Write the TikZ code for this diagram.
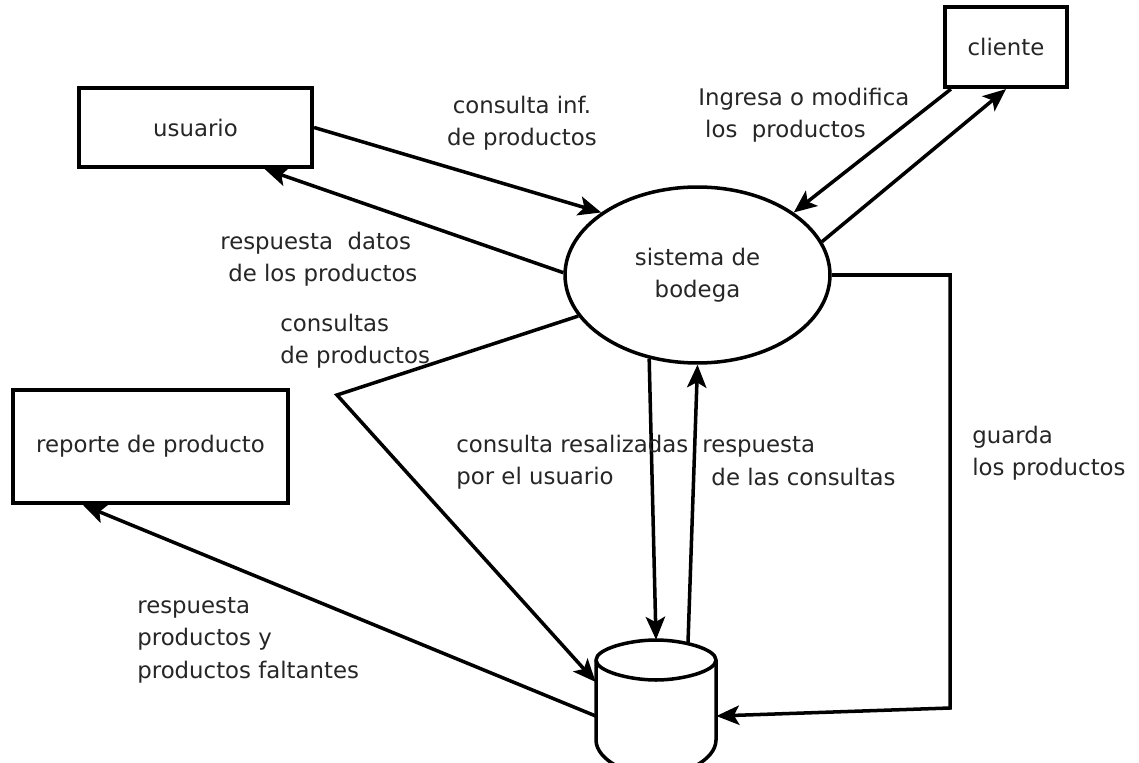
\documentclass[tikz,border=0pt]{standalone}
\usepackage{fontspec}
\setmainfont{DejaVu Sans}
\usetikzlibrary{arrows.meta,calc,shapes.geometric}

\tikzset{
  every node/.style={font=\fontsize{13}{18.5}\selectfont, text=black!85},
  entidad/.style={draw, line width=2.4pt, inner sep=0pt},
  proceso/.style={ellipse, draw, line width=2pt, inner sep=0pt,
    minimum width=5.3cm, minimum height=3.52cm, align=center},
  flujo/.style={line width=2pt, -{Stealth[length=13pt,width=11pt,inset=3pt]}},
  linea/.style={line width=2pt, line join=round},
  etiq/.style={inner sep=0pt, align=left, anchor=west},
}

\begin{document}
\begin{tikzpicture}[x=0.02cm, y=-0.02cm]
  \useasboundingbox[fill=white] (0,0) rectangle (1139,763);

  % entidades y proceso
  \node[entidad, minimum width=4.66cm, minimum height=1.58cm] (usuario) at (195.5,127.5) {usuario};
  \node[entidad, minimum width=2.44cm, minimum height=1.6cm] (cliente) at (1006,47) {cliente};
  \node[entidad, minimum width=5.5cm, minimum height=2.26cm] (reporte) at (150.5,446.5) {reporte de producto};
  \node[proceso] (sistema) at (697.5,275) {sistema de\\bodega};

  % almacen (cilindro)
  \node[minimum width=2.4cm, minimum height=2.4cm, inner sep=0pt] (bodega) at (656,700) {};
  \draw[linea] (596,740) -- (596,660)
      .. controls (596,649) and (629,640) .. (656,640)
      .. controls (683,640) and (716,649) .. (716,660)
      -- (716,740) .. controls (716,760) and (683,776) .. (656,776)
      .. controls (629,776) and (596,760) .. (596,740);
  \draw[linea] (596,660) .. controls (596,671) and (629,680) .. (656,680)
      .. controls (683,680) and (716,671) .. (716,660);

  % flujos
  \draw[flujo] (usuario.east) -- (sistema.147);
  \draw[flujo] (sistema.179) -- (usuario.-31.5);
  \draw[flujo] ($(cliente.south west)+(8,0)$) -- (sistema.33);
  \draw[flujo] (sistema.15.5) -- (cliente.south);
  \coordinate (quiebre) at (337,395);
  \draw[flujo] (sistema.199) -- (quiebre) -- ($(bodega.west)+(0,-18)$);
  \draw[flujo] (sistema.240) -- (bodega.north);
  \draw[flujo] ($(bodega.north)+(32,3)$) -- (sistema.south);
  \draw[flujo] ($(bodega.west)+(0,16)$) -- (reporte.221.7);
  \coordinate (esquina) at (950,708);
  \draw[flujo] (sistema.east) -| (esquina) -- ($(bodega.east)+(0,16)$);

  % etiquetas
  \node[etiq, anchor=center, align=center] (consinf) at (522,123) {consulta inf.\\ de productos};
  \node[etiq] (ingresa) at (698,115) {Ingresa o modifica\\\hspace*{0.3em}los~ productos};
  \node[etiq] (respdatos) at (220,259) {respuesta~ datos\\\hspace*{0.35em}de los productos};
  \node[etiq] (consultas) at (280,341) {consultas\\de productos};
  \node[etiq] (consres) at (456,462) {consulta resalizadas\\por el usuario};
  \node[etiq] (respcons) at (702,461) {respuesta\\\hspace*{0.4em}de las consultas};
  \node[etiq] (guarda) at (972,453) {guarda\\los productos};
  \node[etiq] (respprod) at (137,640) {respuesta\\productos y\\productos faltantes};
\end{tikzpicture}
\end{document}
